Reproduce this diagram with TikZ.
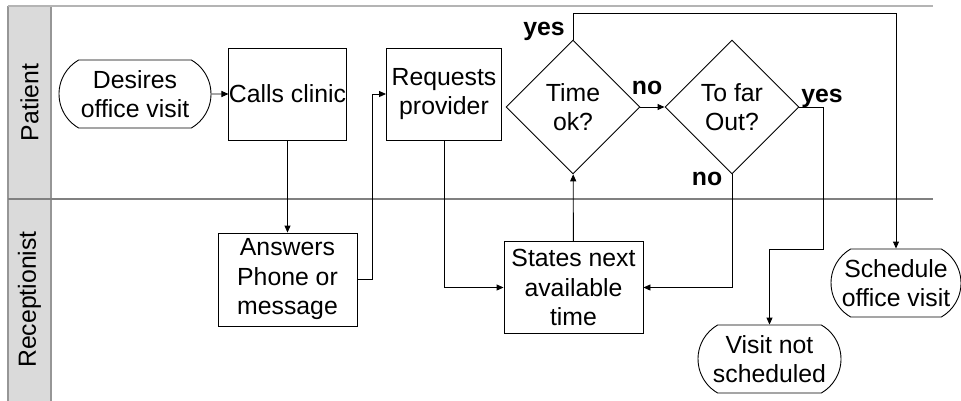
\documentclass[tikz,border=0pt]{standalone}
\usepackage{fontspec}
\setmainfont{Liberation Sans}
\usepackage{tikz}
\usetikzlibrary{
    positioning,
    arrows.meta,
    shapes.geometric,
    shapes.misc
}
\definecolor{laneGray}{RGB}{218, 218, 218}
\definecolor{laneEdge}{RGB}{150, 150, 150}
\definecolor{laneTop}{RGB}{180, 180, 180}
\definecolor{laneMid}{RGB}{128, 128, 128}

\begin{document}
\begin{tikzpicture}[x=1pt, y=-1pt, >={Triangle[length=7pt, width=6pt]},
        every node/.style={font=\fontsize{24.8}{29.5}\selectfont, align=center, inner sep=0pt},
        process/.style={draw, line width=0.9pt, rectangle, minimum height=92pt},
        terminal/.style={draw, line width=0.9pt, rounded rectangle, rounded rectangle arc length=120, minimum height=68pt},
        decision/.style={draw, line width=0.9pt, diamond, minimum width=134pt, minimum height=134pt},
        answer/.style={font=\fontsize{24.8}{29.5}\selectfont\bfseries, anchor=base},
        flow/.style={->, line width=0.9pt}]
        \useasboundingbox (0,0) rectangle (961,400);

        % Swim lanes
        \fill[laneGray] (8,6) rectangle (51,402);
        \draw[laneEdge, line width=1.5pt] (8,402) -- (8,6) (51,6) -- (51,402);
        \draw[laneTop, line width=2pt] (8,6) -- (933,6);
        \draw[laneMid, line width=1.5pt] (8,199) -- (933,199);
        \node[rotate=90] (patient) at (29.5,102.5) {Patient};
        \node[rotate=90] (recept) at (29.5,299.5) {Receptionist};

        % Steps
        \node[terminal, minimum width=152pt] (desire) at (135,94) {Desires\\office visit};
        \node[process, minimum width=115pt] (calls) at (287.5,94) {Calls clinic};
        \node[process, minimum width=139pt, minimum height=93pt] (answers) at (287.5,279.5) {Answers\\Phone or\\message};
        \node[process, minimum width=115pt] (requests) at (444,94) {Requests\\provider};
        \node[process, minimum width=139pt] (states) at (573.5,287.5) {States next\\available\\time};
        \node[decision] (timeok) at (573,107) {Time\\ok?};
        \node[decision] (toofar) at (732,107) {To far\\Out?};
        \node[terminal, minimum width=130pt] (sched) at (896,283) {Schedule\\office visit};
        \node[terminal, minimum width=143pt] (notsched) at (769.5,359) {Visit not\\scheduled};

        % Connectors
        \draw[flow] (desire) -- (calls);
        \draw[flow] (calls) -- (answers);
        \draw[flow] (answers.east) -- ++(15,0) |- (requests.west);
        \draw[flow] (requests.south) |- (states.west);
        \draw[flow] (states) -- (timeok);
        \draw[flow] (timeok.north) -- ++(0,-26) -| (sched.north);
        \draw[flow] (timeok) -- (toofar);
        \draw[flow] (toofar.south) |- (states.east);
        \draw[flow] (toofar.east) -- ++(24,0) -- ++(0,142) -| (notsched.north);

        % Branch labels
        \node[answer] (yes1) at (544,35) {yes};
        \node[answer] (no1) at (647,94) {no};
        \node[answer] (yes2) at (822,102) {yes};
        \node[answer] (no2) at (707,185) {no};
    \end{tikzpicture}
\end{document}
